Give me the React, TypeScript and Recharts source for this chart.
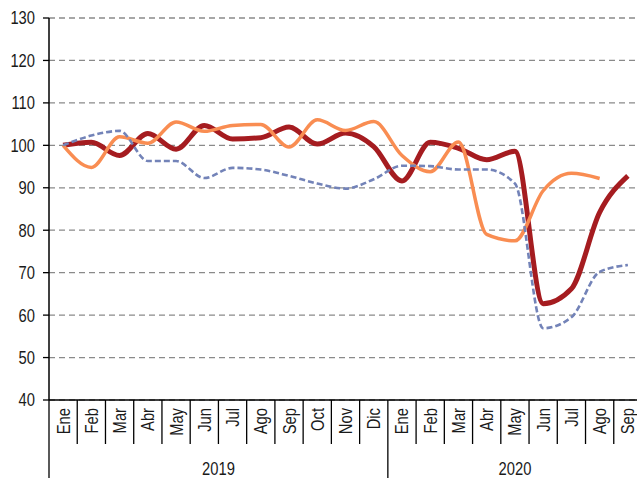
import { CartesianGrid, Line, LineChart, XAxis, YAxis } from "recharts";

const months = [
  "Ene", "Feb", "Mar", "Abr", "May", "Jun", "Jul", "Ago", "Sep", "Oct", "Nov", "Dic",
  "Ene", "Feb", "Mar", "Abr", "May", "Jun", "Jul", "Ago", "Sep",
];
const yearLabels = ["2019", "2020"];
const monthsPerYear = [12, 9];

const redSeries = [
  100, 100.7, 97.6, 102.8, 99.1, 104.7, 101.5, 101.8, 104.3, 100.3, 102.9, 99.7,
  91.6, 100.7, 99.3, 96.6, 98.6, 62.7, 66.2, 84.2, 92.8,
];
const orangeSeries = [
  100, 94.8, 102, 100.5, 105.5, 103.3, 104.7, 104.9, 99.6, 106, 103.5, 105.6,
  97.6, 93.8, 100.8, 79, 77.5, 89.3, 93.4, 92.2, null,
];
const blueSeries = [
  100, 102.3, 103.4, 96.3, 96.3, 92.3, 94.7, 94.3, 92.8, 91, 89.8, 92,
  95.2, 95.1, 94.3, 94.3, 91, 56.9, 59.5, 70.2, 71.8,
];
const yTicks = [40, 50, 60, 70, 80, 90, 100, 110, 120, 130];

// unique key per month so the band scale keeps all 21 slots
const data = months.map((m, i) => ({
  key: `${m}-${i}`,
  red: redSeries[i],
  orange: orangeSeries[i],
  blue: blueSeries[i],
}));

const FONT = "'Liberation Sans', Arial, sans-serif";
const TEXT = "#1a1a1a";
const NARROW = 0.82; // condensed look of the original font

// start index of each year block
const yearStarts = monthsPerYear.map((_, k) =>
  monthsPerYear.slice(0, k).reduce((a, b) => a + b, 0)
);

const MonthTick = (props: any) => {
  const { x, y, payload, index } = props;
  const half = payload?.offset ?? 0;
  const left = x - half;
  const yearIdx = yearStarts.indexOf(index);
  const isYearStart = yearIdx >= 0;
  return (
    <g>
      <line
        x1={left}
        x2={left}
        y1={y}
        y2={isYearStart ? y + 78 : y + 44}
        stroke="#000"
        strokeWidth={1.3}
      />
      <text
        transform={`translate(${x},${y + 8}) rotate(-90) scale(${NARROW},1)`}
        textAnchor="end"
        dy="0.36em"
        fontSize={18}
        fontFamily={FONT}
        fill={TEXT}
      >
        {months[index]}
      </text>
      {isYearStart && (
        <text
          transform={`translate(${left + monthsPerYear[yearIdx] * half},${y + 75}) scale(${NARROW},1)`}
          textAnchor="middle"
          fontSize={18}
          fontFamily={FONT}
          fill={TEXT}
        >
          {yearLabels[yearIdx]}
        </text>
      )}
    </g>
  );
};

const ValueTick = (props: any) => {
  const { x, y, payload } = props;
  return (
    <text
      transform={`translate(${x},${y}) scale(${NARROW},1)`}
      textAnchor="end"
      dy="0.36em"
      fontSize={18}
      fontFamily={FONT}
      fill={TEXT}
    >
      {payload.value}
    </text>
  );
};

export default function App() {
  return (
    <div
      style={{
        position: "fixed",
        left: 0,
        top: 0,
        width: 637,
        height: 478,
        overflow: "hidden",
        background: "#fff",
      }}
    >
      <LineChart
        width={642}
        height={478}
        data={data}
        margin={{ top: 18, right: 0, bottom: 0, left: 0 }}
      >
        <CartesianGrid
          vertical={false}
          stroke="#8a8a8a"
          strokeWidth={1.3}
          strokeDasharray="6 4"
        />
        <XAxis
          dataKey="key"
          scale="band"
          interval={0}
          height={78}
          tickSize={0}
          tickMargin={0}
          tickLine={false}
          axisLine={{ stroke: "#000", strokeWidth: 1.5 }}
          tick={<MonthTick />}
        />
        <YAxis
          domain={[40, 130]}
          ticks={yTicks}
          width={49}
          interval={0}
          tickSize={6}
          tickMargin={8}
          axisLine={{ stroke: "#000", strokeWidth: 1.5 }}
          tickLine={{ stroke: "#000", strokeWidth: 1.3 }}
          tick={<ValueTick />}
        />
        <Line
          type="monotone"
          dataKey="red"
          stroke="#a51c20"
          strokeWidth={5}
          dot={false}
          activeDot={false}
          isAnimationActive={false}
        />
        <Line
          type="monotone"
          dataKey="orange"
          stroke="#f98d52"
          strokeWidth={3.5}
          dot={false}
          activeDot={false}
          isAnimationActive={false}
        />
        <Line
          type="monotone"
          dataKey="blue"
          stroke="#7383b8"
          strokeWidth={2.6}
          strokeDasharray="6 3"
          dot={false}
          activeDot={false}
          isAnimationActive={false}
        />
      </LineChart>
    </div>
  );
}
